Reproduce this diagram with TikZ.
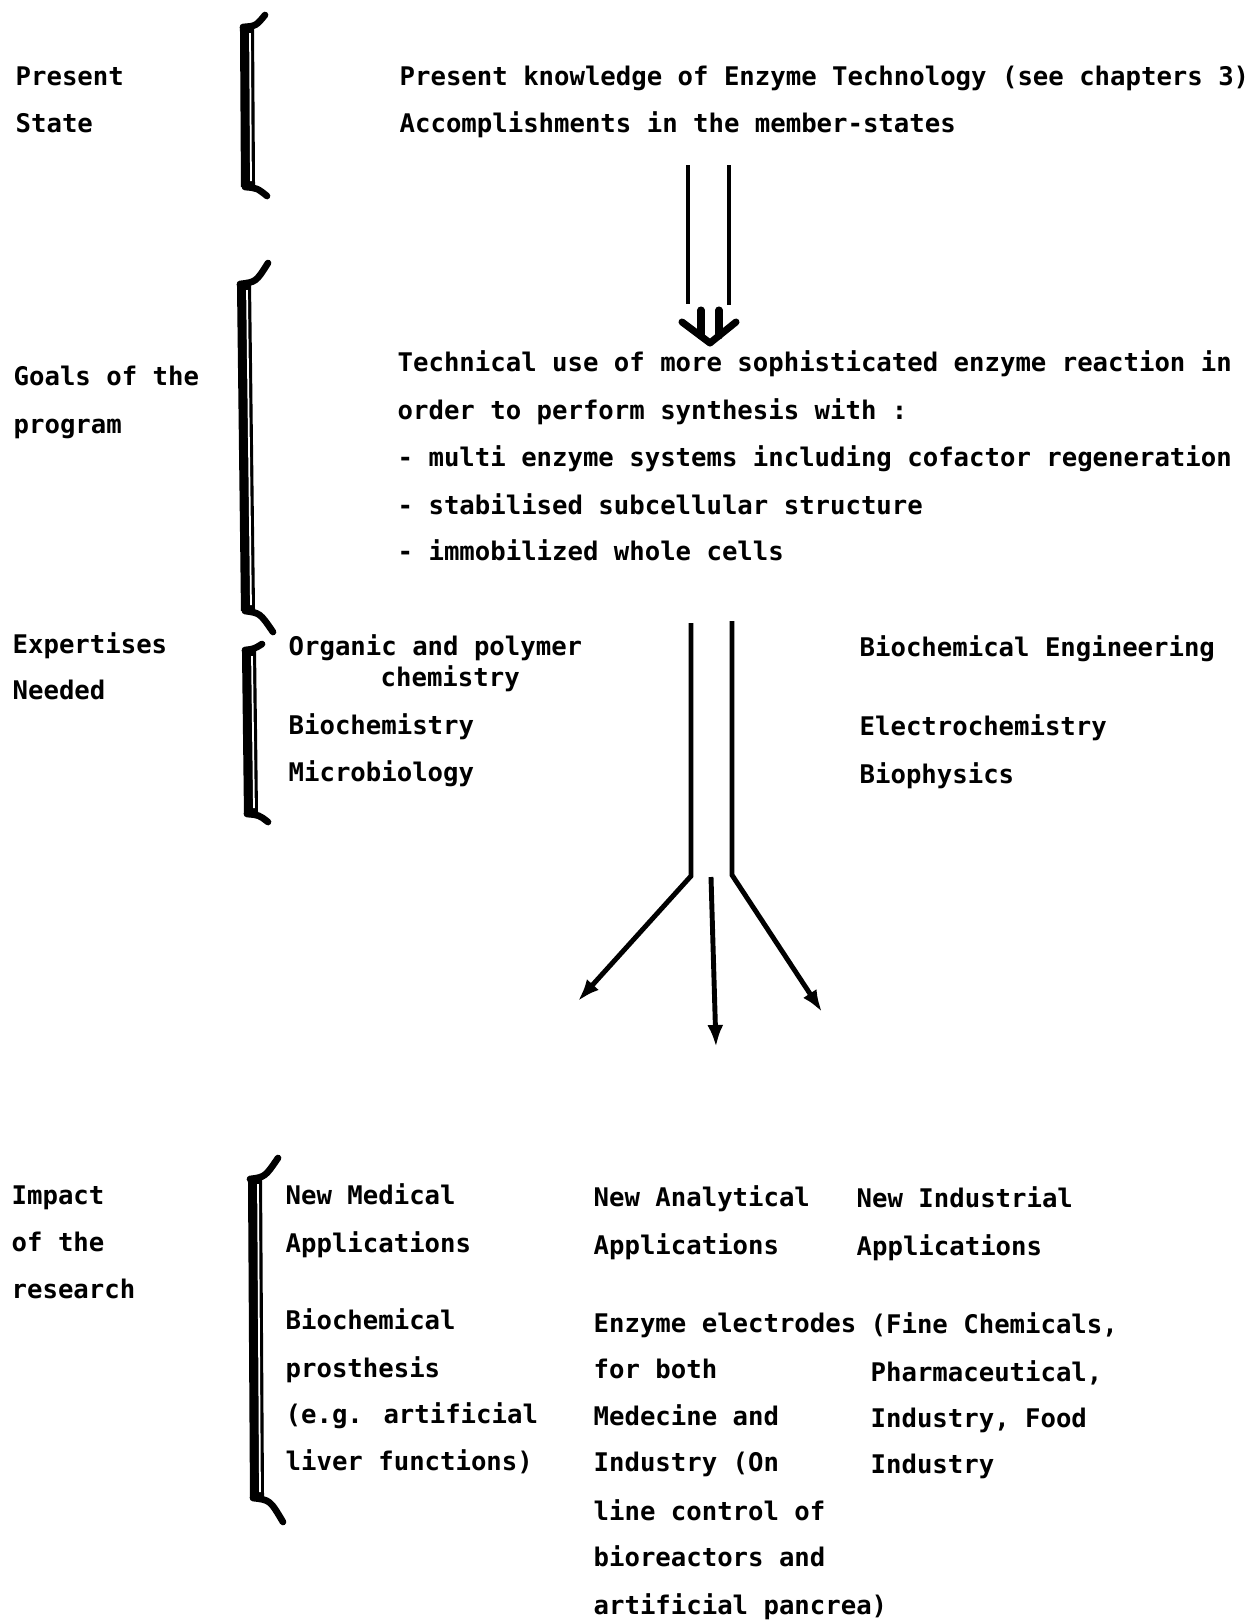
\documentclass[tikz,border=0pt]{standalone}
\usepackage{fontspec}
\newfontfamily\gothic{DejaVu Sans Mono}
\usetikzlibrary{arrows.meta}

\begin{document}
\begin{tikzpicture}[x=0.1mm, y=-0.1mm, >={Latex[length=2.2mm, width=1.6mm]}, font=\gothic\bfseries\fontsize{7.3}{9}\selectfont]
	\tikzstyle{txt} = [anchor=base west, inner sep=0pt]
	\tikzstyle{bar} = [line width=4pt]
	\tikzstyle{gap} = [white, line width=0.5pt]
	\tikzstyle{hook} = [line width=1.9pt, line cap=round]
	\tikzstyle{shaft} = [line width=1.4pt]
	\tikzstyle{head} = [line width=2pt, line join=round, line cap=round]

	\useasboundingbox (0,0) rectangle (1249,1623);

	% left column
	\node[txt] at (15,85) 		(ps1) 	{Present};
	\node[txt] at (15,132) 		(ps2) 	{State};
	\node[txt] at (13,385) 		(gl1) 	{Goals of the};
	\node[txt] at (13,433) 		(gl2) 	{program};
	\node[txt] at (12,653) 		(ex1) 	{Expertises};
	\node[txt] at (12,699) 		(ex2) 	{Needed};
	\node[txt] at (11,1204) 	(im1) 	{Impact};
	\node[txt] at (11,1251) 	(im2) 	{of the};
	\node[txt] at (11,1298) 	(im3) 	{research};

	% present state
	\node[txt] at (399,85) 		(st1) 	{Present knowledge of Enzyme Technology (see chapters 3)};
	\node[txt] at (399,132) 	(st2) 	{Accomplishments in the member-states};

	% goals
	\node[txt] at (397,371) 	(go1) 	{Technical use of more sophisticated enzyme reaction in};
	\node[txt] at (397,419) 	(go2) 	{order to perform synthesis with :};
	\node[txt] at (397,466) 	(go3) 	{- multi enzyme systems including cofactor regeneration};
	\node[txt] at (397,514) 	(go4) 	{- stabilised subcellular structure};
	\node[txt] at (397,560) 	(go5) 	{- immobilized whole cells};

	% expertises
	\node[txt] at (288,655) 	(ea1) 	{Organic and polymer};
	\node[txt] at (380,686) 	(ea2) 	{chemistry};
	\node[txt] at (288,734) 	(ea3) 	{Biochemistry};
	\node[txt] at (288,781) 	(ea4) 	{Microbiology};
	\node[txt] at (859,656) 	(eb1) 	{Biochemical Engineering};
	\node[txt] at (859,735) 	(eb2) 	{Electrochemistry};
	\node[txt] at (859,783) 	(eb3) 	{Biophysics};

	% impact
	\node[txt] at (285,1204) 	(md1) 	{New Medical};
	\node[txt] at (285,1252) 	(md2) 	{Applications};
	\node[txt] at (285,1329) 	(md3) 	{Biochemical};
	\node[txt] at (285,1377) 	(md4) 	{prosthesis};
	\node[txt] at (285,1423) 	(md5) 	{(e.g. artificial};
	\node[txt] at (285,1470) 	(md6) 	{liver functions)};

	\node[txt] at (593,1206) 	(an1) 	{New Analytical};
	\node[txt] at (593,1254) 	(an2) 	{Applications};
	\node[txt] at (593,1332) 	(an3) 	{Enzyme electrodes};
	\node[txt] at (593,1378) 	(an4) 	{for both};
	\node[txt] at (593,1425) 	(an5) 	{Medecine and};
	\node[txt] at (593,1471) 	(an6) 	{Industry (On};
	\node[txt] at (593,1520) 	(an7) 	{line control of};
	\node[txt] at (593,1566) 	(an8) 	{bioreactors and};
	\node[txt] at (593,1614) 	(an9) 	{artificial pancrea)};

	\node[txt] at (856,1207) 	(in1) 	{New Industrial};
	\node[txt] at (856,1255) 	(in2) 	{Applications};
	\node[txt] at (870,1333) 	(in3) 	{(Fine Chemicals,};
	\node[txt] at (870,1381) 	(in4) 	{Pharmaceutical,};
	\node[txt] at (870,1427) 	(in5) 	{Industry, Food};
	\node[txt] at (870,1473) 	(in6) 	{Industry};

	% brackets
	\draw[bar] (247,27) -- (248,187);
	\draw[gap] (250,33) -- (251,181);
	\draw[hook] (243,27) .. controls (256,26) .. (265,15);
	\draw[hook] (245,187) .. controls (257,188) .. (267,196);
	\draw[bar] (244,284) -- (248,611);
	\draw[gap] (247,290) -- (251,605);
	\draw[hook] (240,284) .. controls (256,282) .. (268,263);
	\draw[hook] (245,611) .. controls (260,613) .. (273,632);
	\draw[bar] (249,650) -- (251,814);
	\draw[gap] (252,656) -- (254,808);
	\draw[hook] (245,650) .. controls (254,649) .. (262,644);
	\draw[hook] (247,814) .. controls (259,815) .. (268,822);
	\draw[bar] (255,1178) -- (257,1498);
	\draw[gap] (258,1184) -- (260,1492);
	\draw[hook] (250,1179) .. controls (265,1177) .. (278,1158);
	\draw[hook] (253,1498) .. controls (270,1500) .. (283,1522);

	% double arrow
	\coordinate (da1) at (688,165);
	\coordinate (da2) at (688,304);
	\coordinate (db1) at (729,165);
	\coordinate (db2) at (729,305);
	\coordinate (hl) at (682,322);
	\coordinate (ht) at (710,343);
	\coordinate (hr) at (736,322);
	\coordinate (sl1) at (701,310);
	\coordinate (sl2) at (701,336);
	\coordinate (sr1) at (719,310);
	\coordinate (sr2) at (719,336);
	\draw[shaft] (da1) -- (da2);
	\draw[shaft] (db1) -- (db2);
	\draw[head] (hl) -- (ht) -- (hr);
	\draw[head] (sl1) -- (sl2);
	\draw[head] (sr1) -- (sr2);

	% fork
	\coordinate (fl1) at (691,623);
	\coordinate (fl2) at (691,876);
	\coordinate (fl3) at (578,1001);
	\coordinate (fr1) at (732,621);
	\coordinate (fr2) at (732,875);
	\coordinate (fr3) at (822,1012);
	\coordinate (fm1) at (711,877);
	\coordinate (fm2) at (716,1047);
	\draw[shaft, ->] (fl1) -- (fl2) -- (fl3);
	\draw[shaft, ->] (fr1) -- (fr2) -- (fr3);
	\draw[shaft, ->] (fm1) -- (fm2);
\end{tikzpicture}
\end{document}
